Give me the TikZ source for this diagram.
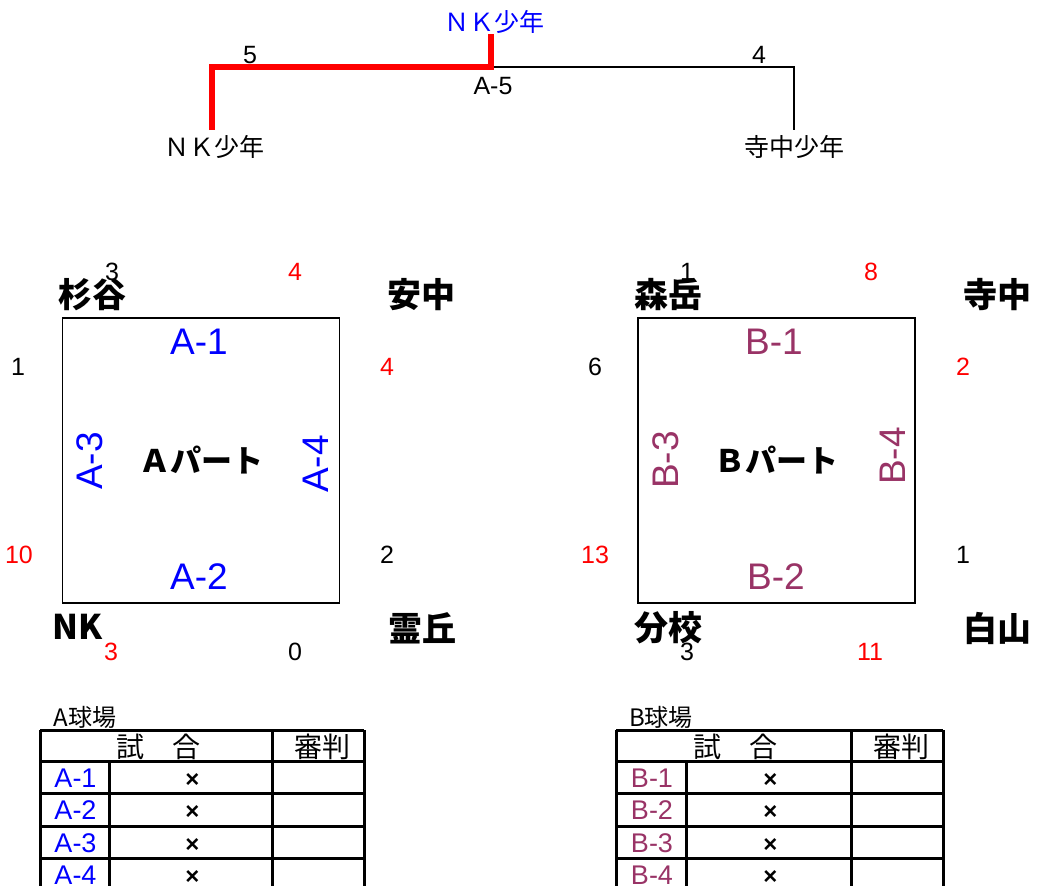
\documentclass[tikz,border=0pt]{standalone}
\usepackage{fontspec}
\setmainfont{Liberation Sans}
\newfontfamily\jpfont{Noto Sans CJK JP}
\usepackage{xcolor}
\definecolor{plum}{HTML}{993366}
\tikzset{
    team/.style={font=\jpfont\bfseries\fontsize{34}{34}\selectfont,inner sep=0pt},
    pts/.style={font=\fontsize{25}{25}\selectfont,inner sep=0pt},
    ptswin/.style={pts,text=red},
    game/.style={font=\fontsize{37}{37}\selectfont,inner sep=0pt},
    court/.style={draw,line width=1.5pt,inner sep=0pt,
        minimum width=277pt,minimum height=285pt,
        font=\jpfont\bfseries\fontsize{31}{31}\selectfont},
    topname/.style={font=\jpfont\fontsize{25}{25}\selectfont,inner sep=0pt},
    cell/.style={font=\fontsize{27}{27}\selectfont,inner sep=0pt},
    head/.style={font=\jpfont\fontsize{28}{28}\selectfont,inner sep=0pt},
    rule/.style={line width=3pt},
    winner/.style={draw=red,line width=6pt},
    loser/.style={draw,line width=1.5pt}
}
\begin{document}
\begin{tikzpicture}[x=1pt,y=-1pt]
    \useasboundingbox (0,0) rectangle (1037,886);
    % final
    \node[topname,text=blue] (champ) at (494,22) {ＮＫ少年};
    \node[topname] (finL) at (214,147) {ＮＫ少年};
    \node[topname] (finR) at (794,147) {寺中少年};
    \coordinate (final) at (491,67);
    \draw[loser] (final) -| ([yshift=5pt]finR.north);
    \draw[winner] ([xshift=-2pt,yshift=5pt]finL.north) |- (final) -- (final |- champ.south);
    \node[pts] (finLpts) at (250,55) {5};
    \node[pts] (finRpts) at (759,55) {4};
    \node[pts] (finName) at (493,86) {A-5};
    % A part
    \node[court] (partA) at (201,460.5) {Ａパート};
    \node[game,text=blue] (A1) at (199,342) {A-1};
    \node[game,text=blue] (A2) at (199,577) {A-2};
    \node[game,text=blue,rotate=90] (A3) at (90,461) {A-3};
    \node[game,text=blue,rotate=90] (A4) at (316,464) {A-4};
    \node[team] (sugi) at (92,295) {杉谷};
    \node[team] (anchu) at (421,295) {安中};
    \node[team] (nk) at (78,627) {NK};
    \node[team] (reik) at (422,628) {霊丘};
    \node[pts] (a1s) at (112,272) {3};
    \node[ptswin] (a1a) at (295,272) {4};
    \node[pts] (a3s) at (18,367) {1};
    \node[ptswin] (a4a) at (387,367) {4};
    \node[ptswin] (a3n) at (19,555) {10};
    \node[pts] (a4r) at (387,555) {2};
    \node[ptswin] (a2n) at (111,652) {3};
    \node[pts] (a2r) at (295,652) {0};
    % B part
    \node[court] (partB) at (776.5,460.5) {Ｂパート};
    \node[game,text=plum] (B1) at (774,342) {B-1};
    \node[game,text=plum] (B2) at (776,577) {B-2};
    \node[game,text=plum,rotate=90] (B3) at (666,460) {B-3};
    \node[game,text=plum,rotate=90] (B4) at (893,456) {B-4};
    \node[team] (mori) at (668,295) {森岳};
    \node[team] (terana) at (997,295) {寺中};
    \node[team] (bunk) at (668,628) {分校};
    \node[team] (haku) at (997,628) {白山};
    \node[pts] (b1m) at (687,272) {1};
    \node[ptswin] (b1t) at (871,272) {8};
    \node[pts] (b3m) at (595,367) {6};
    \node[ptswin] (b4t) at (963,367) {2};
    \node[ptswin] (b3b) at (595,555) {13};
    \node[pts] (b4h) at (963,555) {1};
    \node[pts] (b2b) at (687,652) {3};
    \node[ptswin] (b2h) at (870,652) {11};
    % draw grounds
    \foreach \p/\xa/\xb/\xc/\xd/\col in {A/40/109/272/364/blue,B/616/686/851/943/plum} {
        \node[head,font=\jpfont\fontsize{24}{24}\selectfont] (\p-ground) at ({\xa+45},717) {\p 球場};
        \draw[rule] (\xa,730) -- (\xd,730);
        \draw[rule] (\xa,730) -- (\xa,886) (\xc,730) -- (\xc,886) (\xd,730) -- (\xd,886);
        \draw[rule] (\xb,761) -- (\xb,886);
        \node[head] (\p-match) at ({(\xa+\xc)/2+2},747) {試　合};
        \node[head] (\p-ump) at ({(\xc+\xd)/2+4},747) {審判};
        \foreach \i/\y in {1/761,2/793,3/826,4/858} {
            \draw[rule] (\xa,\y) -- (\xd,\y);
            \node[cell,text=\col] (\p-row\i) at ({(\xa+\xb)/2+1},\y+17) {\p-\i};
            \node[cell,font=\bfseries\fontsize{24}{24}\selectfont] (\p-res\i) at ({(\xb+\xc)/2+2},\y+19) {×};
        }
    }
\end{tikzpicture}
\end{document}
